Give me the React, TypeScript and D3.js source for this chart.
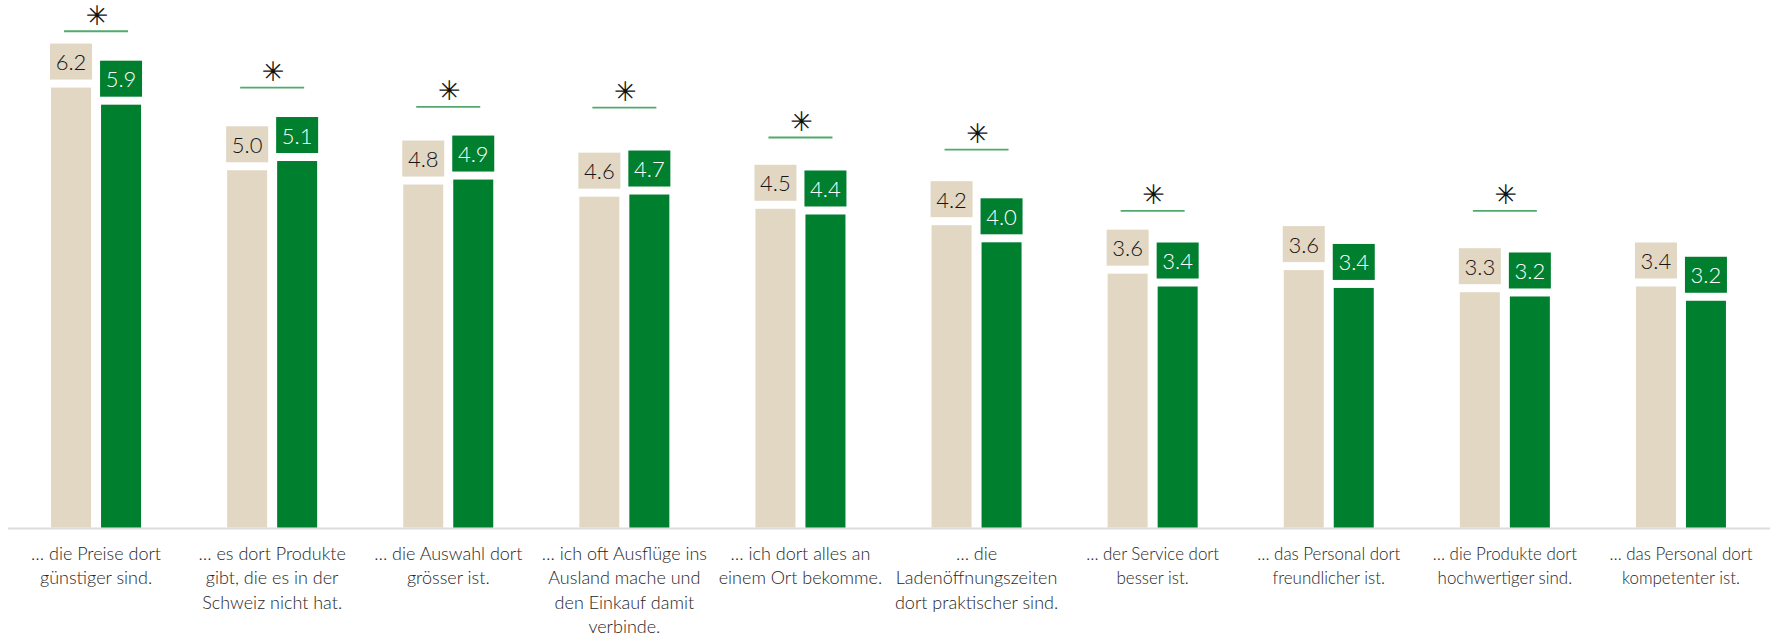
import React from "react";
import * as d3 from "d3";

const categories: string[] = [
  "… die Preise dort\ngünstiger sind.",
  "… es dort Produkte\ngibt, die es in der\nSchweiz nicht hat.",
  "… die Auswahl dort\ngrösser ist.",
  "… ich oft Ausflüge ins\nAusland mache und\nden Einkauf damit\nverbinde.",
  "… ich dort alles an\neinem Ort bekomme.",
  "… die\nLadenöffnungszeiten\ndort praktischer sind.",
  "… der Service dort\nbesser ist.",
  "… das Personal dort\nfreundlicher ist.",
  "… die Produkte dort\nhochwertiger sind.",
  "… das Personal dort\nkompetenter ist.",
];

const seriesA: number[] = [6.17, 5.01, 4.81, 4.64, 4.47, 4.24, 3.56, 3.61, 3.3, 3.38];
const seriesB: number[] = [5.93, 5.14, 4.88, 4.67, 4.39, 4.0, 3.38, 3.36, 3.24, 3.18];
// significance marker level (in value units), null = not significant
const sigLevel: (number | null)[] = [6.96, 6.17, 5.9, 5.89, 5.47, 5.3, 4.44, null, 4.44, null];

const W = 1770;
const H = 634;
const BEIGE = "#e1d7c3";
const GREEN = "#007f2f";

export default function App() {
  const baseY = 527.5;
  const y = d3.scaleLinear().domain([0, 7]).range([baseY, baseY - 7 * 71.3]);
  const x0 = d3
    .scaleBand<number>()
    .domain(categories.map((_, i) => i))
    .range([8, 1769])
    .padding(0);
  const x1 = d3.scaleBand<string>().domain(["a", "b"]).range([0, 90]).paddingInner(0.2).paddingOuter(0);
  const fmt = d3.format(".1f");
  const series = [
    { key: "a", values: seriesA, fill: BEIGE, text: "#151515" },
    { key: "b", values: seriesB, fill: GREEN, text: "#ffffff" },
  ];
  const font = "Lato, 'Open Sans', sans-serif";

  return (
    <svg
      width={W}
      height={H}
      style={{ position: "absolute", left: 0, top: 0, background: "#fff" }}
      fontFamily={font}
    >
      <line x1={8} x2={1770} y1={baseY + 1} y2={baseY + 1} stroke="#dcdcdc" strokeWidth={2} />
      {categories.map((cat, i) => {
        const cx = (x0(i) as number) + x0.bandwidth() / 2;
        const gx = cx - 45;
        const lines = cat.split("\n");
        const condensed = i >= 6;
        const sig = sigLevel[i];
        return (
          <g key={i}>
            {series.map((s) => {
              const v = s.values[i];
              const bx = gx + (x1(s.key) as number);
              const bw = x1.bandwidth();
              const top = y(v);
              const boxH = 36;
              const boxW = 42;
              const boxBottom = top - 8;
              return (
                <g key={s.key}>
                  <rect x={bx} y={top} width={bw} height={baseY - top} fill={s.fill} />
                  <rect
                    x={bx + bw / 2 - boxW / 2}
                    y={boxBottom - boxH}
                    width={boxW}
                    height={boxH}
                    fill={s.fill}
                  />
                  <text
                    x={bx + bw / 2}
                    y={boxBottom - 9.5}
                    textAnchor="middle"
                    fontSize={22}
                    fontWeight={300}
                    fill={s.text}
                  >
                    {fmt(v)}
                  </text>
                </g>
              );
            })}
            {sig !== null && (
              <g>
                <line
                  x1={cx - 32}
                  x2={cx + 32}
                  y1={y(sig)}
                  y2={y(sig)}
                  stroke="#52a96e"
                  strokeWidth={1.8}
                />
                <text
                  x={cx + 1}
                  y={y(sig) - 16}
                  textAnchor="middle"
                  dominantBaseline="central"
                  fontSize={27}
                  fontFamily="'DejaVu Sans', sans-serif"
                  fill="#111"
                >
                  ✳
                </text>
              </g>
            )}
            <g transform={`translate(${cx},0) scale(${condensed ? 0.94 : 1},1)`}>
              {lines.map((ln, j) => (
                <text
                  key={j}
                  x={0}
                  y={560 + j * 24.3}
                  textAnchor="middle"
                  fontSize={18}
                  fontWeight={300}
                  fill="#262626"
                >
                  {ln}
                </text>
              ))}
            </g>
          </g>
        );
      })}
    </svg>
  );
}
